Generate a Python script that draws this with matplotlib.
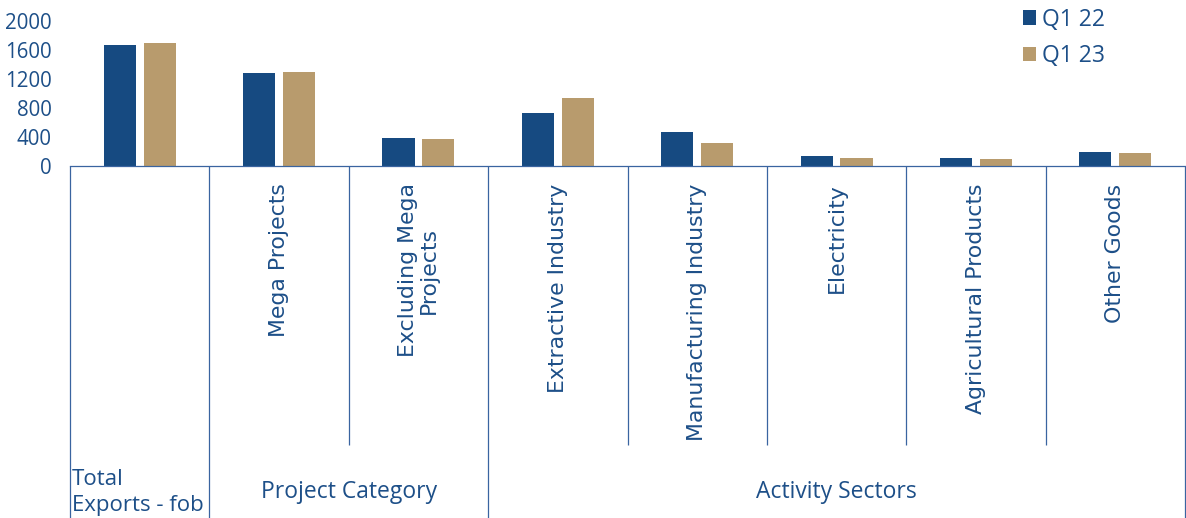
import matplotlib
matplotlib.use("Agg")
import matplotlib.pyplot as plt
import matplotlib.transforms as mtransforms
from matplotlib.patches import Patch
import numpy as np

# Exports by category, first quarter (USD million)
categories = ["", "Mega Projects", "Excluding Mega\nProjects", "Extractive Industry",
              "Manufacturing Industry", "Electricity", "Agricultural Products", "Other Goods"]
q1_22 = [1669, 1283, 386, 731, 469, 138, 110, 193]
q1_23 = [1697, 1297, 372, 938, 317, 110, 97, 179]
series_labels = ["Q1 22", "Q1 23"]
yticks = [0, 400, 800, 1200, 1600, 2000]

# Grouping of the categories along the bottom
groups = [("Total\nExports - fob", 0, 1), ("Project Category", 1, 3), ("Activity Sectors", 3, 8)]

BLUE = "#164a81"
TAN = "#b89b6d"
TEXT = "#1d4f88"
LINE = "#3a64a0"

W, H = 1186, 518
fig = plt.figure(figsize=(W / 100, H / 100), dpi=100)
ax = fig.add_axes([70 / W, (H - 166) / H, 1115 / W, 145 / H])

x = np.arange(len(categories))
bw = 0.23
off = 0.143
ax.bar(x - off, q1_22, bw, color=BLUE, label=series_labels[0])
ax.bar(x + off, q1_23, bw, color=TAN, label=series_labels[1])

ax.set_xlim(-0.5, len(categories) - 0.5)
ax.set_ylim(0, 2000)
ax.set_yticks(yticks)
ax.set_yticklabels([str(v) for v in yticks], fontfamily="Open Sans", fontsize=14.8, color=TEXT)
ax.tick_params(axis="y", length=0, pad=13)
ax.set_xticks([])
for side in ["left", "right", "top"]:
    ax.spines[side].set_visible(False)
ax.spines["bottom"].set_color(LINE)
ax.spines["bottom"].set_linewidth(0.9)

trans = mtransforms.blended_transform_factory(ax.transData, ax.transAxes)

# Separators between categories; group borders run to the bottom edge
group_edges = {0, 1, 3, 8}
for i in range(len(categories) + 1):
    xb = i - 0.5
    y_end = -2.43 if i in group_edges else -1.925
    ax.plot([xb, xb], [0, y_end], transform=trans, color=LINE, lw=0.9,
            clip_on=False, solid_capstyle="butt")

# Rotated category labels
for i, lab in enumerate(categories):
    if lab:
        ax.text(i, -0.12, lab, transform=trans, rotation=90, ha="center", va="top",
                fontfamily="DejaVu Sans", fontsize=15.8, color=TEXT,
                multialignment="center", linespacing=1.05)

# Group labels
for name, a, b in groups:
    if a == 0:
        ax.text(a - 0.487, -2.25, name, transform=trans, ha="left", va="center",
                fontfamily="Open Sans", fontsize=16, color=TEXT, linespacing=1.3)
    else:
        ax.text((a + b) / 2 - 0.5, -2.25, name, transform=trans, ha="center", va="center",
                fontfamily="Open Sans", fontsize=16.5, color=TEXT)

handles = [Patch(facecolor=BLUE, edgecolor="none"), Patch(facecolor=TAN, edgecolor="none")]
leg = fig.legend(handles, series_labels, loc="upper left",
                 bbox_to_anchor=(1018 / W, 1 - 3 / H), frameon=False,
                 prop={"family": "Open Sans", "size": 16.5},
                 handlelength=0.58, handleheight=0.58, handletextpad=0.25,
                 labelspacing=0.55, borderaxespad=0, borderpad=0.2)
for t in leg.get_texts():
    t.set_color(TEXT)

fig.savefig("out.png", dpi=100)
